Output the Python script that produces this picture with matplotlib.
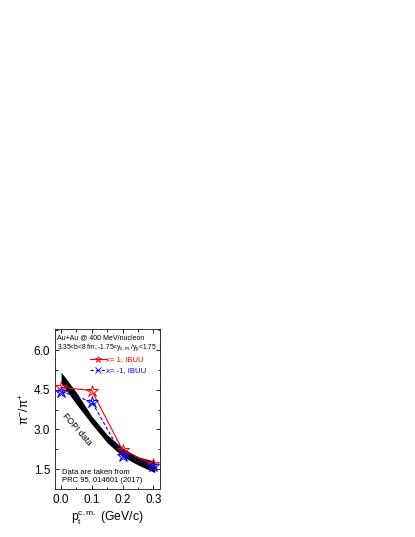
import matplotlib
matplotlib.use('Agg')
import matplotlib.pyplot as plt
from matplotlib.lines import Line2D
import numpy as np

plt.rcParams['font.family'] = ['Liberation Sans', 'DejaVu Sans']
plt.rcParams['mathtext.fontset'] = 'custom'
plt.rcParams['mathtext.rm'] = 'Liberation Sans'
plt.rcParams['mathtext.it'] = 'Liberation Sans'

# IBUU results
pt = [0.0, 0.1, 0.2, 0.3]
ratio_x1 = [4.6, 4.47, 2.22, 1.68]
ratio_xm1 = [4.43, 4.05, 2.0, 1.61]

# FOPI band edges
pt_band = [0.0, 0.05, 0.1, 0.15, 0.2, 0.25, 0.305]
band_hi = [5.17, 4.4, 3.5, 2.8, 2.3, 1.97, 1.8]
band_lo = [4.75, 3.95, 3.2, 2.5, 1.98, 1.66, 1.37]

xticks = [0.0, 0.1, 0.2, 0.3]
yticks = [1.5, 3.0, 4.5, 6.0]

fig = plt.figure(figsize=(4.15, 5.37), dpi=100)
ax = fig.add_axes([0.1325, 0.0894, 0.253, 0.298])

ax.fill_between(pt_band, band_lo, band_hi, color='black', lw=0, zorder=1)

ax.plot(pt, ratio_x1, color='red', lw=0.8, marker='*', ms=9,
        mfc='none', mec='red', mew=0.7, zorder=3)
ax.plot(pt, ratio_xm1, color='blue', lw=0.8, ls=(0, (3, 2)), marker='*', ms=9,
        mfc='none', mec='blue', mew=0.7, zorder=4)
ax.plot(pt, ratio_xm1, ls='none', marker='x', ms=5, mec='blue', mew=0.7, zorder=4)

h1 = Line2D([], [], color='red', lw=0.8, marker='*', ms=5, mfc='none', mec='red', mew=0.6)
h2 = Line2D([], [], color='blue', lw=0.8, ls=(0, (3, 2)), marker='x', ms=4, mec='blue', mew=0.6)
leg = ax.legend([h1, h2], ['x= 1, IBUU', 'x= -1, IBUU'], loc='upper left',
                bbox_to_anchor=(0.29, 0.86), frameon=False, fontsize=5.6,
                handlelength=2.0, handletextpad=0.1, labelspacing=0.45, borderaxespad=0.2)
leg.get_texts()[0].set_color('red')
leg.get_texts()[1].set_color('blue')

ax.text(0.02, 0.945, 'Au+Au @ 400 MeV/nucleon', transform=ax.transAxes,
        fontsize=5.0, va='center', ha='left')
ax.text(0.02, 0.885, r'3.35<b<8 fm, -1.75<y$_{c.m.}$/y$_p$<1.75', transform=ax.transAxes,
        fontsize=4.8, va='center', ha='left')
ax.text(0.052, 3.0, 'FOPI data', rotation=-49, fontsize=6.3, ha='center', va='center')
ax.text(0.065, 0.106, 'Data are taken from', transform=ax.transAxes,
        fontsize=5.5, va='center', ha='left')
ax.text(0.065, 0.054, 'PRC 95, 014601 (2017)', transform=ax.transAxes,
        fontsize=5.5, va='center', ha='left')

ax.set_xlim(-0.02, 0.322)
ax.set_ylim(0.75, 6.8)
ax.set_xticks(xticks)
ax.set_xticklabels(['0.0', '0.1', '0.2', '0.3'])
ax.set_yticks(yticks)
ax.set_yticklabels(['1.5', '3.0', '4.5', '6.0'])
ax.set_xticks(np.arange(-0.0, 0.32, 0.05), minor=True)
ax.set_yticks(np.arange(0.75, 6.8, 0.75), minor=True)
ax.tick_params(which='both', direction='in', top=True, right=True, labelsize=8.5, width=0.6)
ax.tick_params(which='major', length=3)
ax.tick_params(which='minor', length=1.8)
for s in ax.spines.values():
    s.set_linewidth(0.7)
    s.set_color('#333333')

ax.set_ylabel(r'$\pi^{-}/\pi^{+}$', fontsize=8.5, labelpad=1)
ax.set_xlabel(r'p$_t^{c.m.}$ (GeV/c)', fontsize=8.7, labelpad=3)

fig.savefig('out.png', dpi=100)
